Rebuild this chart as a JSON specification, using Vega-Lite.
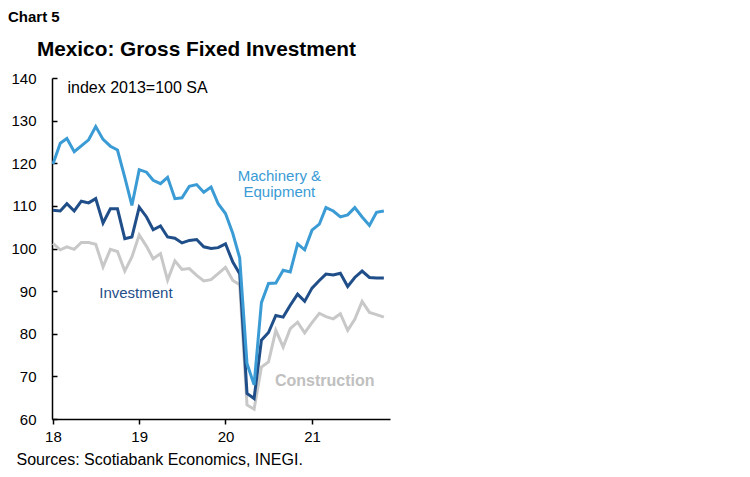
{
  "$schema": "https://vega.github.io/schema/vega-lite/v6.json",
  "width": 338,
  "height": 341,
  "autosize": {"type": "none"},
  "padding": {"left": 52, "top": 78, "right": 360, "bottom": 58},
  "background": "white",
  "config": {"view": {"stroke": null}, "font": "Liberation Sans"},
  "title": {
    "text": "Chart 5",
    "subtitle": "\u200b\u00a0\u00a0\u00a0\u00a0\u00a0Mexico: Gross Fixed Investment",
    "anchor": "start",
    "frame": "group",
    "dx": -44,
    "offset": 11,
    "font": "Liberation Sans",
    "fontSize": 15,
    "fontWeight": "bold",
    "color": "#000000",
    "subtitleFont": "Liberation Sans",
    "subtitleFontSize": 20.8,
    "subtitleFontWeight": "bold",
    "subtitleColor": "#000000",
    "subtitlePadding": 15
  },
  "datasets": {
    "gfi": [
      {"series": "Construction", "month": "2018-01", "value": 101.2},
      {"series": "Construction", "month": "2018-02", "value": 99.7},
      {"series": "Construction", "month": "2018-03", "value": 100.4},
      {"series": "Construction", "month": "2018-04", "value": 99.8},
      {"series": "Construction", "month": "2018-05", "value": 101.4},
      {"series": "Construction", "month": "2018-06", "value": 101.4},
      {"series": "Construction", "month": "2018-07", "value": 101.0},
      {"series": "Construction", "month": "2018-08", "value": 95.7},
      {"series": "Construction", "month": "2018-09", "value": 99.8},
      {"series": "Construction", "month": "2018-10", "value": 99.3},
      {"series": "Construction", "month": "2018-11", "value": 94.7},
      {"series": "Construction", "month": "2018-12", "value": 98.0},
      {"series": "Construction", "month": "2019-01", "value": 103.2},
      {"series": "Construction", "month": "2019-02", "value": 100.5},
      {"series": "Construction", "month": "2019-03", "value": 97.6},
      {"series": "Construction", "month": "2019-04", "value": 98.8},
      {"series": "Construction", "month": "2019-05", "value": 92.6},
      {"series": "Construction", "month": "2019-06", "value": 97.1},
      {"series": "Construction", "month": "2019-07", "value": 95.1},
      {"series": "Construction", "month": "2019-08", "value": 95.3},
      {"series": "Construction", "month": "2019-09", "value": 93.7},
      {"series": "Construction", "month": "2019-10", "value": 92.4},
      {"series": "Construction", "month": "2019-11", "value": 92.7},
      {"series": "Construction", "month": "2019-12", "value": 94.1},
      {"series": "Construction", "month": "2020-01", "value": 95.6},
      {"series": "Construction", "month": "2020-02", "value": 92.5},
      {"series": "Construction", "month": "2020-03", "value": 91.5},
      {"series": "Construction", "month": "2020-04", "value": 63.3},
      {"series": "Construction", "month": "2020-05", "value": 62.3},
      {"series": "Construction", "month": "2020-06", "value": 72.2},
      {"series": "Construction", "month": "2020-07", "value": 73.4},
      {"series": "Construction", "month": "2020-08", "value": 80.8},
      {"series": "Construction", "month": "2020-09", "value": 76.9},
      {"series": "Construction", "month": "2020-10", "value": 81.2},
      {"series": "Construction", "month": "2020-11", "value": 82.7},
      {"series": "Construction", "month": "2020-12", "value": 80.2},
      {"series": "Construction", "month": "2021-01", "value": 82.6},
      {"series": "Construction", "month": "2021-02", "value": 84.8},
      {"series": "Construction", "month": "2021-03", "value": 84.0},
      {"series": "Construction", "month": "2021-04", "value": 83.5},
      {"series": "Construction", "month": "2021-05", "value": 84.7},
      {"series": "Construction", "month": "2021-06", "value": 80.8},
      {"series": "Construction", "month": "2021-07", "value": 83.4},
      {"series": "Construction", "month": "2021-08", "value": 87.6},
      {"series": "Construction", "month": "2021-09", "value": 85.0},
      {"series": "Construction", "month": "2021-10", "value": 84.5},
      {"series": "Construction", "month": "2021-11", "value": 83.9},
      {"series": "Investment", "month": "2018-01", "value": 109.0},
      {"series": "Investment", "month": "2018-02", "value": 108.8},
      {"series": "Investment", "month": "2018-03", "value": 110.5},
      {"series": "Investment", "month": "2018-04", "value": 108.8},
      {"series": "Investment", "month": "2018-05", "value": 111.1},
      {"series": "Investment", "month": "2018-06", "value": 110.7},
      {"series": "Investment", "month": "2018-07", "value": 111.7},
      {"series": "Investment", "month": "2018-08", "value": 106.0},
      {"series": "Investment", "month": "2018-09", "value": 109.3},
      {"series": "Investment", "month": "2018-10", "value": 109.3},
      {"series": "Investment", "month": "2018-11", "value": 102.3},
      {"series": "Investment", "month": "2018-12", "value": 102.7},
      {"series": "Investment", "month": "2019-01", "value": 109.7},
      {"series": "Investment", "month": "2019-02", "value": 107.4},
      {"series": "Investment", "month": "2019-03", "value": 104.4},
      {"series": "Investment", "month": "2019-04", "value": 105.3},
      {"series": "Investment", "month": "2019-05", "value": 102.7},
      {"series": "Investment", "month": "2019-06", "value": 102.4},
      {"series": "Investment", "month": "2019-07", "value": 101.3},
      {"series": "Investment", "month": "2019-08", "value": 101.9},
      {"series": "Investment", "month": "2019-09", "value": 102.1},
      {"series": "Investment", "month": "2019-10", "value": 100.4},
      {"series": "Investment", "month": "2019-11", "value": 100.0},
      {"series": "Investment", "month": "2019-12", "value": 100.2},
      {"series": "Investment", "month": "2020-01", "value": 101.1},
      {"series": "Investment", "month": "2020-02", "value": 96.8},
      {"series": "Investment", "month": "2020-03", "value": 94.1},
      {"series": "Investment", "month": "2020-04", "value": 66.0},
      {"series": "Investment", "month": "2020-05", "value": 64.8},
      {"series": "Investment", "month": "2020-06", "value": 78.5},
      {"series": "Investment", "month": "2020-07", "value": 80.3},
      {"series": "Investment", "month": "2020-08", "value": 84.3},
      {"series": "Investment", "month": "2020-09", "value": 83.9},
      {"series": "Investment", "month": "2020-10", "value": 86.7},
      {"series": "Investment", "month": "2020-11", "value": 89.3},
      {"series": "Investment", "month": "2020-12", "value": 87.6},
      {"series": "Investment", "month": "2021-01", "value": 90.7},
      {"series": "Investment", "month": "2021-02", "value": 92.5},
      {"series": "Investment", "month": "2021-03", "value": 94.0},
      {"series": "Investment", "month": "2021-04", "value": 93.8},
      {"series": "Investment", "month": "2021-05", "value": 94.2},
      {"series": "Investment", "month": "2021-06", "value": 91.1},
      {"series": "Investment", "month": "2021-07", "value": 93.2},
      {"series": "Investment", "month": "2021-08", "value": 94.7},
      {"series": "Investment", "month": "2021-09", "value": 93.2},
      {"series": "Investment", "month": "2021-10", "value": 93.1},
      {"series": "Investment", "month": "2021-11", "value": 93.1},
      {"series": "Machinery & Equipment", "month": "2018-01", "value": 119.8},
      {"series": "Machinery & Equipment", "month": "2018-02", "value": 124.7},
      {"series": "Machinery & Equipment", "month": "2018-03", "value": 125.8},
      {"series": "Machinery & Equipment", "month": "2018-04", "value": 122.7},
      {"series": "Machinery & Equipment", "month": "2018-05", "value": 124.1},
      {"series": "Machinery & Equipment", "month": "2018-06", "value": 125.5},
      {"series": "Machinery & Equipment", "month": "2018-07", "value": 128.6},
      {"series": "Machinery & Equipment", "month": "2018-08", "value": 125.6},
      {"series": "Machinery & Equipment", "month": "2018-09", "value": 124.0},
      {"series": "Machinery & Equipment", "month": "2018-10", "value": 123.1},
      {"series": "Machinery & Equipment", "month": "2018-11", "value": 116.7},
      {"series": "Machinery & Equipment", "month": "2018-12", "value": 110.1},
      {"series": "Machinery & Equipment", "month": "2019-01", "value": 118.5},
      {"series": "Machinery & Equipment", "month": "2019-02", "value": 117.9},
      {"series": "Machinery & Equipment", "month": "2019-03", "value": 116.0},
      {"series": "Machinery & Equipment", "month": "2019-04", "value": 115.2},
      {"series": "Machinery & Equipment", "month": "2019-05", "value": 116.7},
      {"series": "Machinery & Equipment", "month": "2019-06", "value": 111.7},
      {"series": "Machinery & Equipment", "month": "2019-07", "value": 111.9},
      {"series": "Machinery & Equipment", "month": "2019-08", "value": 114.6},
      {"series": "Machinery & Equipment", "month": "2019-09", "value": 115.0},
      {"series": "Machinery & Equipment", "month": "2019-10", "value": 113.2},
      {"series": "Machinery & Equipment", "month": "2019-11", "value": 114.4},
      {"series": "Machinery & Equipment", "month": "2019-12", "value": 110.5},
      {"series": "Machinery & Equipment", "month": "2020-01", "value": 108.2},
      {"series": "Machinery & Equipment", "month": "2020-02", "value": 103.5},
      {"series": "Machinery & Equipment", "month": "2020-03", "value": 97.8},
      {"series": "Machinery & Equipment", "month": "2020-04", "value": 73.0},
      {"series": "Machinery & Equipment", "month": "2020-05", "value": 68.0},
      {"series": "Machinery & Equipment", "month": "2020-06", "value": 87.3},
      {"series": "Machinery & Equipment", "month": "2020-07", "value": 91.8},
      {"series": "Machinery & Equipment", "month": "2020-08", "value": 91.9},
      {"series": "Machinery & Equipment", "month": "2020-09", "value": 94.9},
      {"series": "Machinery & Equipment", "month": "2020-10", "value": 94.5},
      {"series": "Machinery & Equipment", "month": "2020-11", "value": 101.1},
      {"series": "Machinery & Equipment", "month": "2020-12", "value": 99.7},
      {"series": "Machinery & Equipment", "month": "2021-01", "value": 104.3},
      {"series": "Machinery & Equipment", "month": "2021-02", "value": 105.7},
      {"series": "Machinery & Equipment", "month": "2021-03", "value": 109.6},
      {"series": "Machinery & Equipment", "month": "2021-04", "value": 108.8},
      {"series": "Machinery & Equipment", "month": "2021-05", "value": 107.4},
      {"series": "Machinery & Equipment", "month": "2021-06", "value": 107.9},
      {"series": "Machinery & Equipment", "month": "2021-07", "value": 109.6},
      {"series": "Machinery & Equipment", "month": "2021-08", "value": 107.4},
      {"series": "Machinery & Equipment", "month": "2021-09", "value": 105.4},
      {"series": "Machinery & Equipment", "month": "2021-10", "value": 108.5},
      {"series": "Machinery & Equipment", "month": "2021-11", "value": 108.8}
    ],
    "labels": [
      {"label": "Machinery &\nEquipment", "series": "Machinery & Equipment", "month": "2020-08-16", "value": 117.1},
      {"label": "Investment", "series": "Investment", "month": "2018-12-18", "value": 89.5},
      {"label": "Construction", "series": "Construction", "month": "2021-02-24", "value": 68.9}
    ]
  },
  "layer": [
    {
      "data": {"name": "gfi"},
      "mark": {"type": "line", "strokeWidth": 3, "strokeJoin": "miter", "clip": true},
      "encoding": {
        "x": {
          "field": "month",
          "type": "temporal",
          "scale": {
            "type": "utc",
            "domain": [
              {"year": 2017, "month": 12, "date": 28, "utc": true},
              {"year": 2021, "month": 11, "date": 27, "utc": true}
            ]
          },
          "axis": {
            "values": [
              {"year": 2018, "month": 1, "date": 1, "utc": true},
              {"year": 2019, "month": 1, "date": 1, "utc": true},
              {"year": 2020, "month": 1, "date": 1, "utc": true},
              {"year": 2021, "month": 1, "date": 1, "utc": true}
            ],
            "format": "%y",
            "grid": false,
            "labelFlush": false,
            "labelOverlap": false,
            "domainColor": "#000000",
            "domainWidth": 1.5,
            "tickColor": "#000000",
            "tickWidth": 1.5,
            "tickSize": 5,
            "labelFontSize": 15,
            "labelColor": "#000000",
            "labelPadding": 5,
            "title": "Sources: Scotiabank Economics, INEGI.",
            "titleFontSize": 16,
            "titleFontWeight": "normal",
            "titleColor": "#000000",
            "titleAnchor": "start",
            "titleAlign": "left",
            "titleBaseline": "middle",
            "titleX": -36,
            "titleY": 40
          }
        },
        "y": {
          "field": "value",
          "type": "quantitative",
          "scale": {"domain": [60, 140], "nice": false, "zero": false},
          "axis": {
            "values": [60, 70, 80, 90, 100, 110, 120, 130, 140],
            "grid": false,
            "domainColor": "#000000",
            "domainWidth": 1.5,
            "tickColor": "#000000",
            "tickWidth": 1.5,
            "tickSize": -5,
            "labelFontSize": 15,
            "labelColor": "#000000",
            "labelPadding": 21,
            "title": "index 2013=100 SA",
            "titleAngle": 0,
            "titleFontSize": 16,
            "titleFontWeight": "normal",
            "titleColor": "#000000",
            "titleAlign": "left",
            "titleBaseline": "middle",
            "titleX": 15,
            "titleY": 9
          }
        },
        "color": {
          "field": "series",
          "type": "nominal",
          "scale": {
            "domain": ["Construction", "Investment", "Machinery & Equipment"],
            "range": ["#c8c8c8", "#1f4e89", "#3a9bd5"]
          },
          "legend": null
        }
      }
    },
    {
      "data": {"name": "labels"},
      "transform": [{"filter": "datum.series !== 'Construction'"}],
      "mark": {"type": "text", "fontSize": 15, "lineBreak": "\n", "lineHeight": 16, "align": "center", "baseline": "middle"},
      "encoding": {
        "x": {"field": "month", "type": "temporal"},
        "y": {"field": "value", "type": "quantitative"},
        "text": {"field": "label"},
        "color": {
          "field": "series",
          "type": "nominal",
          "scale": {
            "domain": ["Construction", "Investment", "Machinery & Equipment"],
            "range": ["#c8c8c8", "#2d5c9c", "#3a9bd5"]
          },
          "legend": null
        }
      }
    },
    {
      "data": {"name": "labels"},
      "transform": [{"filter": "datum.series === 'Construction'"}],
      "mark": {"type": "text", "fontSize": 16, "fontWeight": "bold", "align": "center", "baseline": "middle", "color": "#c0c0c0"},
      "encoding": {
        "x": {"field": "month", "type": "temporal"},
        "y": {"field": "value", "type": "quantitative"},
        "text": {"field": "label"}
      }
    }
  ]
}
